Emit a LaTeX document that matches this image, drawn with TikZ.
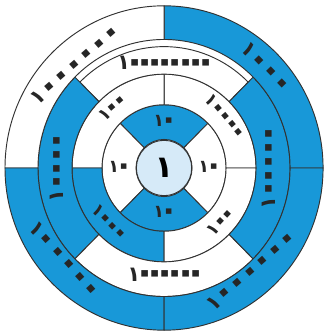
\documentclass[tikz,border=0pt]{standalone}
\usepackage{fontspec}
\newfontfamily\arabicfont[Script=Arabic]{DejaVu Sans}
\definecolor{ringblue}{RGB}{24,152,216}
\definecolor{paleblue}{RGB}{214,234,248}
\definecolor{edge}{RGB}{50,50,50}

% the zero is drawn as a big round dot, as in the printed figure
\def\sifrgap{-0.2em}
\newcommand{\bigsifr}{\kern\sifrgap\raisebox{-0.17em}{\scalebox{1.8}{\char"0660}}\kern\sifrgap}
\catcode"0660=\active
\def٠{\bigsifr}

\begin{document}
\begin{tikzpicture}[
  x=0.03cm, y=0.0306cm,
  sector/.style={
    draw=edge,
    line width=0.8pt
  },
  hub/.style={
    circle,
    draw=edge,
    line width=0.8pt,
    fill=paleblue,
    minimum size=1.66cm,
    inner sep=0pt,
    font=\arabicfont\bfseries\fontsize{26}{26}\selectfont
  },
  outerdigits/.style={
    inner sep=0pt,
    text=black!85,
    font={\arabicfont\bfseries\fontsize{18}{18}\selectfont\def\sifrgap{-0.155em}}
  },
  ringdigits/.style={
    outerdigits,
    font={\arabicfont\bfseries\fontsize{18}{18}\selectfont\def\sifrgap{-0.22em}}
  },
  tightdigits/.style={
    outerdigits,
    font={\arabicfont\bfseries\fontsize{18}{18}\selectfont\def\sifrgap{-0.31em}}
  },
  smalldigits/.style={
    outerdigits,
    font={\arabicfont\bfseries\fontsize{15}{15}\selectfont\def\sifrgap{-0.25em}}
  }
]
  \useasboundingbox (-164,-164.7) rectangle (162,164.7);

  % rings, quarter by quarter
  \foreach \ri/\ro/\a/\b/\c in {
    28/62/45/135/ringblue, 28/62/135/225/white, 28/62/225/315/ringblue, 28/62/-45/45/white,
    62/92/0/90/white, 62/92/90/180/white, 62/92/180/270/ringblue, 62/92/270/360/white,
    92/119/45/135/white, 92/126/135/225/ringblue, 92/126/225/315/white, 92/126/-45/45/ringblue,
    126/159/0/90/ringblue, 126/159/90/180/white, 126/159/180/270/ringblue, 126/159/270/360/ringblue} {
    \filldraw[sector, fill=\c] (\a:\ro) arc[start angle=\a, end angle=\b, radius=\ro]
      -- (\b:\ri) arc[start angle=\b, end angle=\a, radius=\ri] -- cycle;
  }

  \node[hub] (one) at (0,0) {١};

  % ring of tens
  \foreach \n/\ang in {tenN/90, tenW/180, tenS/270, tenE/0} {
    \node[smalldigits] (\n) at (\ang:45) {١٠};
  }

  % second ring
  \node[smalldigits, rotate=41]  (hundredA) at (131:77) {١٠٠};
  \node[smalldigits, rotate=-50] (tenthouA) at (40:78)  {١٠٠٠٠};
  \node[smalldigits, rotate=47]  (hundredB) at (-43:79) {١٠٠};
  \node[smalldigits, rotate=-46] (thouA)    at (224:78) {١٠٠٠};

  % third ring
  \node[tightdigits]            (hundmil)  at (90:101)  {١٠٠٠٠٠٠٠٠};
  \node[ringdigits, rotate=90]  (hunthouA) at (0:107)   {١٠٠٠٠٠};
  \node[tightdigits]            (milA)     at (270:106) {١٠٠٠٠٠٠};
  \node[ringdigits, rotate=90]  (tenthouB) at (180:105) {١٠٠٠٠};

  % outer ring
  \node[outerdigits, rotate=41]  (milB)     at (131:133) {١٠٠٠٠٠٠};
  \node[outerdigits, rotate=-46] (thouB)    at (44:140)  {١٠٠٠};
  \node[outerdigits, rotate=41]  (milC)     at (-49:135) {١٠٠٠٠٠٠};
  \node[outerdigits, rotate=-48] (hunthouB) at (222:136) {١٠٠٠٠٠};
\end{tikzpicture}
\end{document}
